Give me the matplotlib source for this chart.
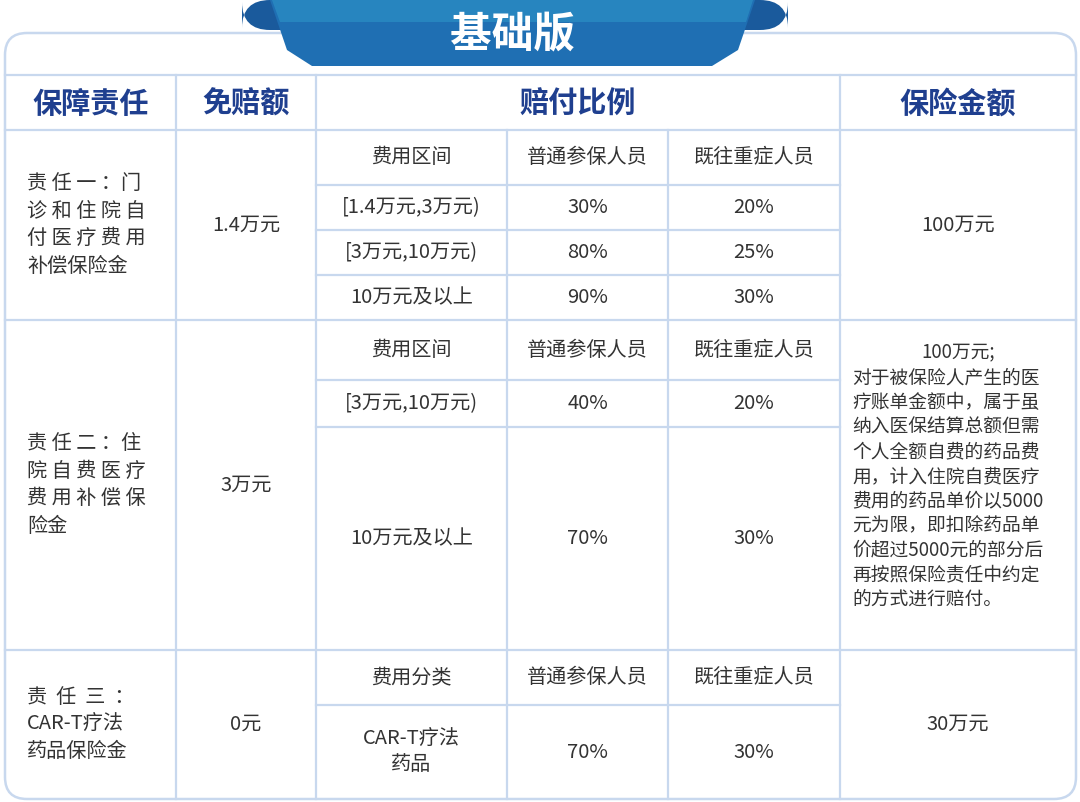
import matplotlib
matplotlib.use("Agg")
import matplotlib.pyplot as plt
from matplotlib.patches import FancyBboxPatch, Polygon

plt.rcParams['font.family'] = ['Noto Sans CJK SC', 'DejaVu Sans']

title = "基础版"
headers = ["保障责任", "免赔额", "赔付比例", "保险金额"]
duties = ["责 任 一 ：门\n诊 和 住 院 自\n付 医 疗 费 用\n补偿保险金",
          "责 任 二 ：住\n院 自 费 医 疗\n费 用 补 偿 保\n险金",
          "责  任  三  ：\nCAR-T疗法\n药品保险金"]
deductibles = ["1.4万元", "3万元", "0元"]
sub_headers = [["费用区间", "普通参保人员", "既往重症人员"],
               ["费用区间", "普通参保人员", "既往重症人员"],
               ["费用分类", "普通参保人员", "既往重症人员"]]
sub_rows = [[["[1.4万元,3万元)", "30%", "20%"],
             ["[3万元,10万元)", "80%", "25%"],
             ["10万元及以上", "90%", "30%"]],
            [["[3万元,10万元)", "40%", "20%"],
             ["10万元及以上", "70%", "30%"]],
            [["CAR-T疗法\n药品", "70%", "30%"]]]
amounts = ["100万元", "100万元;", "30万元"]
amount2_note = ("对于被保险人产生的医\n疗账单金额中，属于虽\n纳入医保结算总额但需\n个人全额自费的药品费\n"
                "用，计入住院自费医疗\n费用的药品单价以5000\n元为限，即扣除药品单\n价超过5000元的部分后\n"
                "再按照保险责任中约定\n的方式进行赔付。")

W, H = 1080, 802
cols = [5, 176, 316, 507, 668, 840, 1076]
hdr_top, hdr_bot = 75, 130
sec_bounds = [(130, 320), (320, 650), (650, 799)]
sub_bounds = [[130, 185, 230, 275, 320], [320, 380, 427, 650], [650, 705, 799]]
LC = "#c8d8ee"
BLUE = "#1f3f8f"
TXT = "#333333"
FS = 14.5

fig = plt.figure(figsize=(W/100, H/100), dpi=100)
ax = fig.add_axes([0, 0, 1, 1])
ax.set_xlim(0, W); ax.set_ylim(H, 0); ax.axis('off')

ax.add_patch(FancyBboxPatch((cols[0], 33), cols[-1]-cols[0], 766,
             boxstyle="round,pad=0,rounding_size=22", fc="white", ec=LC, lw=1.8, zorder=1))
ax.add_patch(FancyBboxPatch((242, 0), 546, 30, boxstyle="round,pad=0,rounding_size=28",
             fc="#1a5a9c", ec="none", zorder=2))
ax.add_patch(Polygon([[270, 0], [755, 0], [738, 50], [712, 66], [312, 66], [287, 50]],
             closed=True, fc="#1f6fb3", ec="none", zorder=3))
ax.add_patch(Polygon([[272, 0], [753, 0], [746, 22], [280, 22]], closed=True,
             fc="#2e95c8", ec="none", alpha=0.6, zorder=3))
ax.text(512, 34, title, color="white", fontsize=30, fontweight="bold",
        ha="center", va="center", zorder=4)

def hl(y, x0, x1):
    ax.plot([x0, x1], [y, y], color=LC, lw=1.6, zorder=5)
def vl(x, y0, y1):
    ax.plot([x, x], [y0, y1], color=LC, lw=1.6, zorder=5)

hl(hdr_top, cols[0], cols[-1]); hl(hdr_bot, cols[0], cols[-1])
for x in cols[1:-1]:
    vl(x, hdr_bot if x in (507, 668) else hdr_top, 799)
for (a, b) in sec_bounds[:-1]:
    hl(b, cols[0], cols[-1])
for sb in sub_bounds:
    for y in sb[1:-1]:
        hl(y, cols[2], cols[5])

hcent = [(cols[0]+cols[1])/2, (cols[1]+cols[2])/2, (cols[2]+cols[5])/2, (cols[5]+cols[6])/2]
for t, x in zip(headers, hcent):
    ax.text(x, (hdr_top+hdr_bot)/2+1, t, color=BLUE, fontsize=21, fontweight="bold",
            ha="center", va="center", zorder=6)

for i in range(3):
    y0, y1 = sec_bounds[i]
    ym = (y0+y1)/2
    ax.text(27, ym, duties[i], color=TXT, fontsize=FS, ha="left", va="center",
            linespacing=1.4, zorder=6)
    ax.text(hcent[1], ym, deductibles[i], color=TXT, fontsize=FS, ha="center", va="center", zorder=6)
    if i == 1:
        ax.text(hcent[3], 353, amounts[i], color=TXT, fontsize=13.5, ha="center", va="center", zorder=6)
        ax.text(852, 368, amount2_note, color=TXT, fontsize=13.5, ha="left", va="top",
                linespacing=1.22, zorder=6)
    else:
        ax.text(hcent[3], ym, amounts[i], color=TXT, fontsize=FS, ha="center", va="center", zorder=6)
    sb = sub_bounds[i]
    rows = [sub_headers[i]] + sub_rows[i]
    for r, row in enumerate(rows):
        yc = (sb[r]+sb[r+1])/2
        for c, t in enumerate(row):
            xc = (cols[2+c]+cols[3+c])/2
            ax.text(xc, yc, t, color=TXT, fontsize=FS, ha="center", va="center",
                    linespacing=1.3, zorder=6)

fig.savefig("out.png", dpi=100)
